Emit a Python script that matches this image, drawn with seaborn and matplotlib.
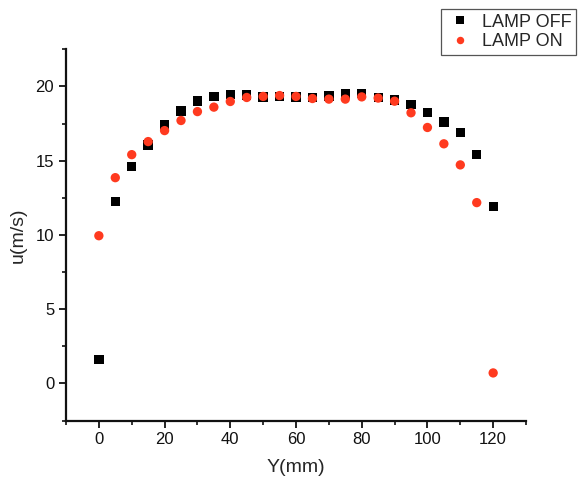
import numpy as np
import pandas as pd
import matplotlib
matplotlib.use("Agg")
import matplotlib.pyplot as plt
from matplotlib.ticker import MultipleLocator
import seaborn as sns

# Measurement positions across the channel (mm)
y_mm = [0, 5, 10, 15, 20, 25, 30, 35, 40, 45, 50, 55, 60,
        65, 70, 75, 80, 85, 90, 95, 100, 105, 110, 115, 120]

# Velocity u (m/s) with the lamp switched off
u_lamp_off = [1.62, 12.27, 14.60, 16.05, 17.40, 18.36, 19.02, 19.31, 19.46,
              19.42, 19.29, 19.31, 19.29, 19.28, 19.37, 19.50, 19.53, 19.28,
              19.10, 18.77, 18.25, 17.60, 16.92, 15.44, 11.91]

# Velocity u (m/s) with the lamp switched on
u_lamp_on = [9.95, 13.86, 15.41, 16.29, 17.03, 17.71, 18.31, 18.61, 18.99,
             19.26, 19.33, 19.39, 19.33, 19.19, 19.15, 19.15, 19.30, 19.22,
             19.01, 18.23, 17.24, 16.14, 14.72, 12.18, 0.71]

series_names = ["LAMP OFF", "LAMP ON"]
x_ticks = [0, 20, 40, 60, 80, 100, 120]
y_ticks = [0, 5, 10, 15, 20]

df = pd.DataFrame({
    "Y": y_mm + y_mm,
    "u": u_lamp_off + u_lamp_on,
    "case": [series_names[0]] * len(y_mm) + [series_names[1]] * len(y_mm),
})

sns.set_theme(style="ticks")
plt.rcParams["font.family"] = ["Liberation Sans", "DejaVu Sans"]

fig = plt.figure(figsize=(5.79, 4.84), dpi=100)
ax = fig.add_axes([0.114, 0.131, 0.7945, 0.767])

sns.scatterplot(
    data=df, x="Y", y="u", hue="case", style="case",
    hue_order=series_names, style_order=series_names,
    palette={"LAMP OFF": "#000000", "LAMP ON": "#ff3a1f"},
    markers={"LAMP OFF": "s", "LAMP ON": "o"},
    s=45, linewidth=0, ax=ax,
)

ax.set_xlim(-10, 130)
ax.set_ylim(-2.5, 22.5)
ax.set_xticks(x_ticks)
ax.set_yticks(y_ticks)
ax.xaxis.set_minor_locator(MultipleLocator(10))
ax.yaxis.set_minor_locator(MultipleLocator(2.5))
ax.tick_params(which="major", direction="out", length=5, width=1.3,
               labelsize=12, colors="#111111")
ax.tick_params(which="minor", direction="out", length=3, width=1.2,
               colors="#111111")

for side in ("top", "right"):
    ax.spines[side].set_visible(False)
for side in ("left", "bottom"):
    ax.spines[side].set_linewidth(1.6)
    ax.spines[side].set_color("#111111")

ax.set_xlabel("Y(mm)", fontsize=14, labelpad=8)
ax.set_ylabel("u(m/s)", fontsize=14, labelpad=6)

handles, labels = ax.get_legend_handles_labels()
ax.legend(
    handles, labels, loc="upper right",
    bbox_to_anchor=(576 / 579, 1 - 9 / 484), bbox_transform=fig.transFigure,
    frameon=True, fancybox=False, edgecolor="#555555", framealpha=1,
    fontsize=13, handletextpad=0.4, handlelength=1.6, borderpad=0.25,
    labelspacing=0.15, markerscale=0.8, borderaxespad=0,
)
ax.get_legend().get_frame().set_linewidth(0.9)

fig.savefig("out.png", dpi=100)
